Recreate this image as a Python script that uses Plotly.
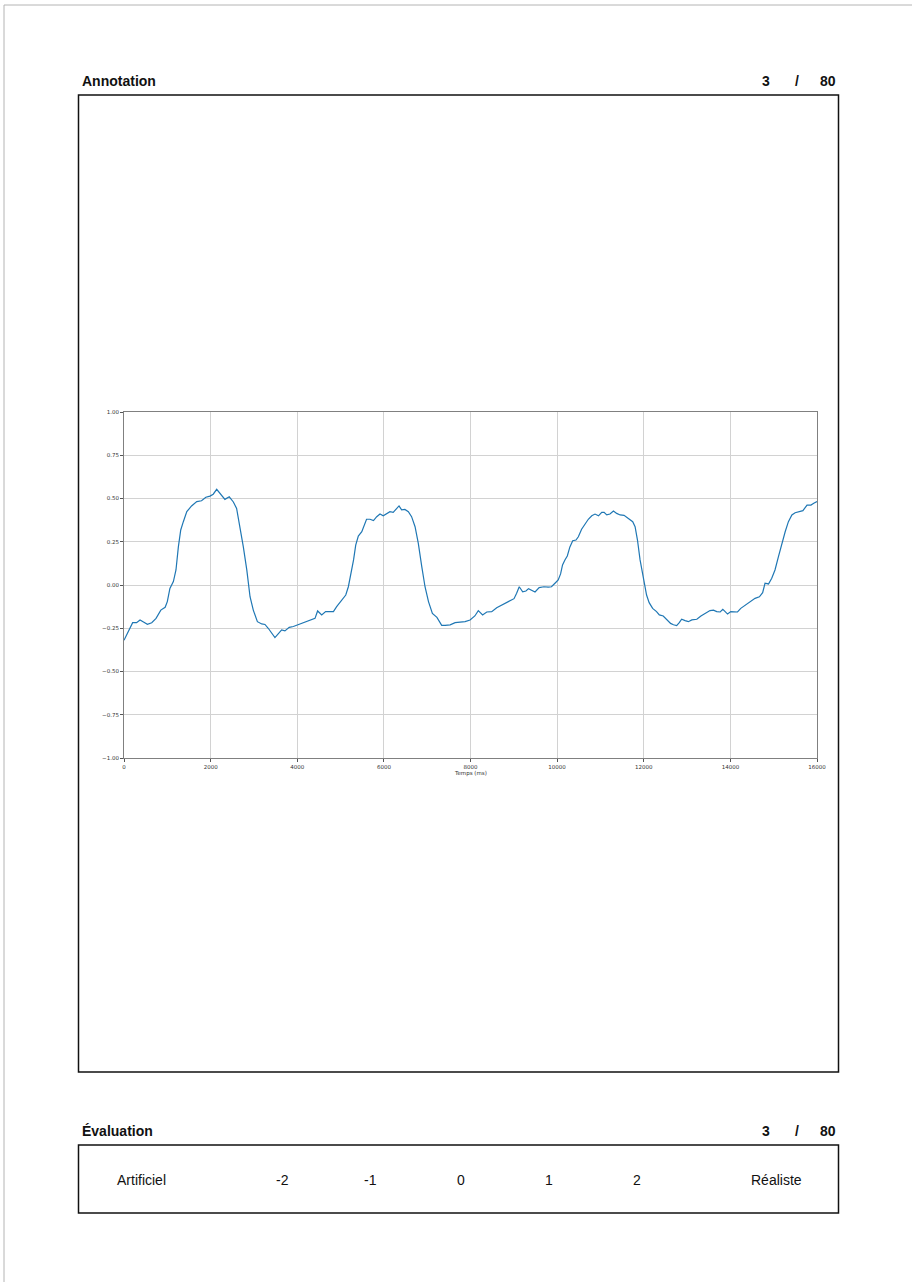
import plotly.graph_objects as go

W, H = 912, 1282

# ---- data ----
time_ms = [0, 100, 200, 290, 370, 450, 540, 640, 740, 850, 950, 1000, 1060, 1140, 1200, 1255,
           1310, 1370, 1450, 1560, 1680, 1790, 1890, 1985, 2060, 2140, 2215, 2330, 2430, 2525,
           2600, 2680, 2755, 2835, 2910, 2985, 3080, 3180, 3255, 3330, 3410, 3485, 3560, 3640,
           3715, 3815, 3910, 4025, 4100, 4215, 4330, 4410, 4470, 4565, 4655, 4755, 4835, 4910,
           5025, 5120, 5180, 5240, 5300, 5350, 5410, 5490, 5550, 5600, 5680, 5760, 5835, 5910,
           5985, 6065, 6140, 6215, 6295, 6350, 6410, 6485, 6565, 6640, 6720, 6795, 6875, 6950,
           7030, 7120, 7225, 7275, 7335, 7415, 7530, 7645, 7760, 7875, 7990, 8100, 8180, 8280,
           8375, 8490, 8605, 8720, 8835, 8910, 9005, 9065, 9125, 9205, 9280, 9340, 9420, 9490,
           9585, 9695, 9795, 9870, 9950, 10025, 10080, 10125, 10180, 10235, 10295, 10360, 10435,
           10490, 10565, 10645, 10720, 10800, 10875, 10955, 11030, 11085, 11145, 11220, 11300,
           11375, 11455, 11545, 11645, 11745, 11800, 11855, 11915, 11995, 12065, 12125, 12205,
           12295, 12360, 12450, 12530, 12620, 12685, 12760, 12820, 12875, 12955, 13030, 13110,
           13225, 13320, 13415, 13530, 13610, 13685, 13765, 13825, 13880, 13935, 14010, 14090,
           14165, 14240, 14340, 14455, 14570, 14670, 14745, 14800, 14880, 14955, 15030, 15110,
           15185, 15265, 15340, 15420, 15495, 15575, 15675, 15770, 15860, 15925, 16000]
signal = [-0.32, -0.27, -0.218, -0.218, -0.202, -0.214, -0.227, -0.218, -0.193, -0.145, -0.129,
          -0.096, -0.02, 0.02, 0.087, 0.22, 0.318, 0.366, 0.424, 0.457, 0.482, 0.487, 0.507,
          0.514, 0.525, 0.553, 0.53, 0.495, 0.51, 0.48, 0.443, 0.337, 0.22, 0.087, -0.068,
          -0.145, -0.212, -0.225, -0.228, -0.25, -0.28, -0.304, -0.283, -0.26, -0.265, -0.245,
          -0.24, -0.23, -0.222, -0.212, -0.202, -0.193, -0.15, -0.173, -0.154, -0.152, -0.154,
          -0.125, -0.09, -0.058, -0.01, 0.058, 0.145, 0.231, 0.283, 0.308, 0.347, 0.38, 0.38,
          0.372, 0.395, 0.41, 0.40, 0.414, 0.424, 0.42, 0.443, 0.457, 0.434, 0.437, 0.424,
          0.395, 0.337, 0.241, 0.106, -0.01, -0.096, -0.164, -0.187, -0.212, -0.233, -0.233,
          -0.23, -0.218, -0.214, -0.212, -0.202, -0.179, -0.148, -0.173, -0.156, -0.154,
          -0.131, -0.116, -0.098, -0.087, -0.079, -0.048, -0.01, -0.039, -0.035, -0.021,
          -0.03, -0.04, -0.015, -0.01, -0.012, -0.01, 0.01, 0.029, 0.064, 0.116, 0.145, 0.168,
          0.22, 0.256, 0.26, 0.279, 0.322, 0.353, 0.38, 0.40, 0.41, 0.40, 0.42, 0.42, 0.405,
          0.41, 0.428, 0.414, 0.405, 0.403, 0.385, 0.366, 0.337, 0.26, 0.145, 0.048, -0.058,
          -0.102, -0.135, -0.154, -0.173, -0.179, -0.198, -0.222, -0.23, -0.235, -0.218,
          -0.198, -0.206, -0.212, -0.202, -0.198, -0.179, -0.164, -0.148, -0.145, -0.154,
          -0.156, -0.141, -0.154, -0.168, -0.154, -0.156, -0.156, -0.135, -0.116, -0.096,
          -0.077, -0.068, -0.044, 0.01, 0.006, 0.039, 0.087, 0.164, 0.241, 0.308, 0.366,
          0.405, 0.418, 0.425, 0.43, 0.462, 0.462, 0.472, 0.482]

x_ticks = [0, 2000, 4000, 6000, 8000, 10000, 12000, 14000, 16000]
x_tick_labels = ["0", "2000", "4000", "6000", "8000", "10000", "12000", "14000", "16000"]
y_ticks = [1.0, 0.75, 0.5, 0.25, 0.0, -0.25, -0.5, -0.75, -1.0]
y_tick_labels = ["1.00", "0.75", "0.50", "0.25", "0.00", "\u22120.25", "\u22120.50", "\u22120.75", "\u22121.00"]

x_title = "Temps (ms)"
header_top = "Annotation"
header_bottom = "\u00c9valuation"
counter = ["3", "/", "80"]
scale_labels = ["Artificiel", "-2", "-1", "0", "1", "2", "R\u00e9aliste"]


def px(x):
    return x / W


def py(y):
    return 1 - y / H


fig = go.Figure()
fig.add_trace(go.Scatter(x=time_ms, y=signal, mode="lines",
                         line=dict(color="#1f77b4", width=1.2), hoverinfo="skip",
                         showlegend=False))

axis_common = dict(showgrid=True, gridcolor="#d2d2d2", gridwidth=1, zeroline=False,
                   showline=True, linecolor="#808080", linewidth=1, mirror=True,
                   ticks="outside", ticklen=3, tickwidth=1, tickcolor="#555",
                   automargin=False,
                   tickfont=dict(family="DejaVu Sans", size=5.5, color="#333"))

fig.update_layout(
    width=W, height=H, autosize=False, margin=dict(l=0, r=0, t=0, b=0, pad=0),
    paper_bgcolor="white", plot_bgcolor="white",
    xaxis=dict(domain=[px(124), px(817)], range=[0, 16000], tickvals=x_ticks,
               ticktext=x_tick_labels, **axis_common),
    yaxis=dict(domain=[py(758), py(412)], range=[-1, 1], tickvals=y_ticks,
               ticktext=y_tick_labels, **axis_common),
)

shapes = []
# page border (top / left), kept inside the figure
shapes.append(dict(type="line", xref="paper", yref="paper", x0=px(4), x1=1,
                   y0=py(5), y1=py(5), line=dict(color="#b4b4b4", width=1)))
shapes.append(dict(type="line", xref="paper", yref="paper", x0=px(4), x1=px(4),
                   y0=py(5), y1=0, line=dict(color="#b4b4b4", width=1)))
# boxes
for (x0, y0, x1, y1) in [(78.5, 95, 838.5, 1072), (78.5, 1145, 838.5, 1213)]:
    shapes.append(dict(type="rect", xref="paper", yref="paper", x0=px(x0), x1=px(x1),
                       y0=py(y0), y1=py(y1), line=dict(color="#111", width=1.5)))
fig.update_layout(shapes=shapes)

ann = []
hfont = dict(family="Liberation Sans, Arial", size=14, color="#111")
for text, ycen in [(header_top, 81), (header_bottom, 1131)]:
    ann.append(dict(text="<b>%s</b>" % text, x=px(80), y=py(ycen), xref="paper", yref="paper",
                    xanchor="left", yanchor="middle", showarrow=False, font=hfont))
    for t, xc in zip(counter, [766, 796.5, 828]):
        ann.append(dict(text="<b>%s</b>" % t, x=px(xc), y=py(ycen), xref="paper",
                        yref="paper", xanchor="center", yanchor="middle", showarrow=False,
                        font=hfont))

sfont = dict(family="Liberation Sans, Arial", size=14, color="#111")
for t, xc in zip(scale_labels, [141, 282, 370, 461, 549, 637, 776]):
    ann.append(dict(text=t, x=px(xc), y=py(1180), xref="paper", yref="paper",
                    xanchor="center", yanchor="middle", showarrow=False, font=sfont))

ann.append(dict(text=x_title, x=px(470), y=py(773), xref="paper", yref="paper",
                xanchor="center", yanchor="middle", showarrow=False,
                font=dict(family="DejaVu Sans", size=5.5, color="#333")))
fig.update_layout(annotations=ann)

fig.write_html("out.html", config={"displayModeBar": False, "responsive": False},
               post_script="document.body.style.margin='0';document.body.style.overflow='hidden';")
